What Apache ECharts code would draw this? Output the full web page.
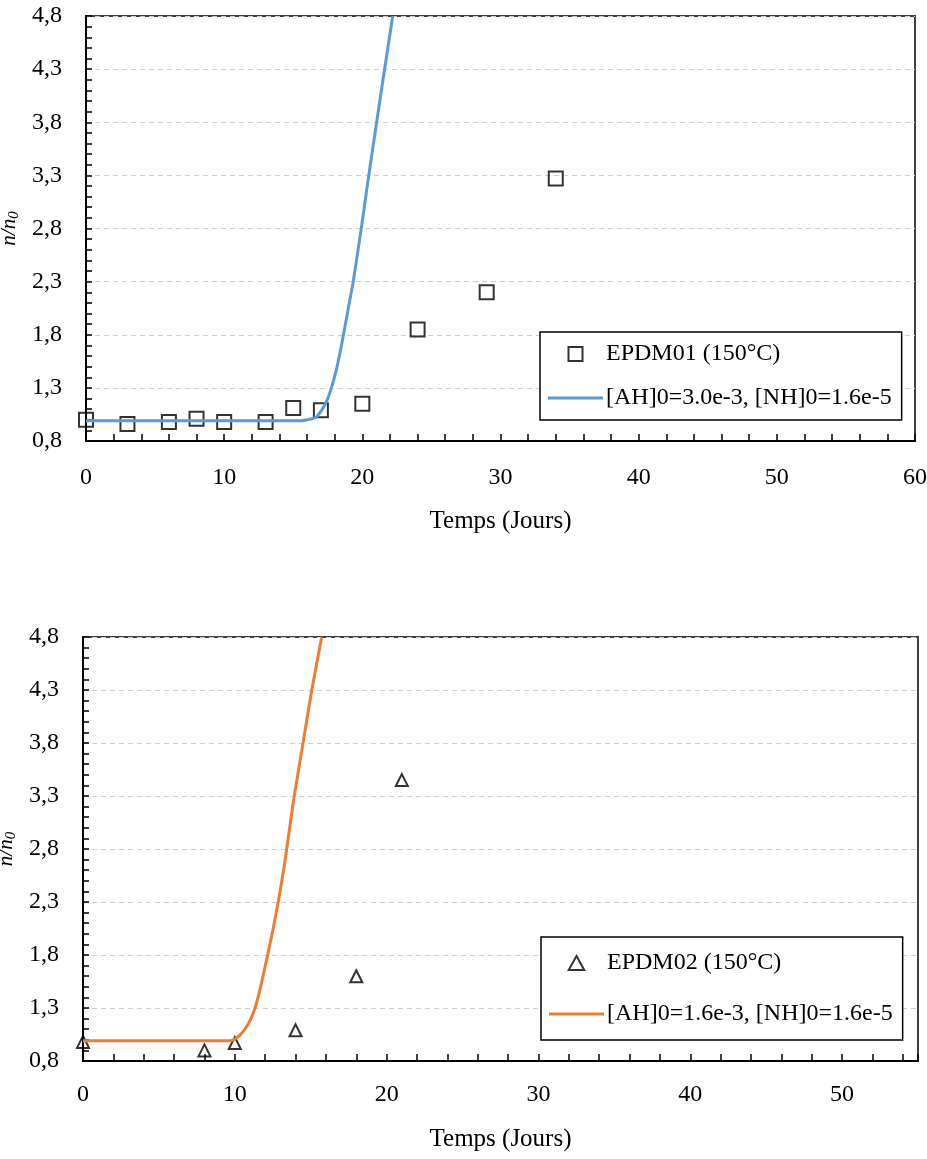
<!DOCTYPE html>
<html>
<head>
<meta charset="utf-8">
<script src="https://cdn.jsdelivr.net/npm/echarts@6/dist/echarts.min.js"></script>
<style>
html,body{margin:0;padding:0;background:#fff;}
#chart{width:927px;height:1159px;}
</style>
</head>
<body>
<div id="chart"></div>
<script>
// ---- Data ----
const epdm01X = [0, 3, 6, 8, 10, 13, 15, 17, 20, 24, 29, 34];
const epdm01Y = [1.00, 0.96, 0.98, 1.01, 0.98, 0.98, 1.11, 1.09, 1.15, 1.85, 2.20, 3.27];
const model01X = [0, 5, 10, 15.5, 16.0, 16.4, 16.7, 16.93, 17.2, 17.5, 17.78, 18.1, 18.4, 18.62, 19.0, 19.34, 19.9, 20.4, 21.0, 21.6, 22.2];
const model01Y = [0.99, 0.99, 0.99, 0.99, 1.00, 1.01, 1.03, 1.066, 1.12, 1.20, 1.31, 1.46, 1.64, 1.79, 2.06, 2.30, 2.78, 3.24, 3.77, 4.29, 4.80];

const epdm02X = [0, 8, 10, 14, 18, 21];
const epdm02Y = [0.98, 0.90, 0.97, 1.09, 1.60, 3.45];
const model02X = [0, 5, 9.5, 9.9, 10.3, 10.67, 11.0, 11.33, 11.7, 12.1, 12.5, 12.87, 13.3, 13.86, 14.47, 15.06, 15.72];
const model02Y = [0.99, 0.99, 0.99, 1.00, 1.04, 1.10, 1.18, 1.30, 1.50, 1.76, 2.03, 2.31, 2.68, 3.25, 3.78, 4.29, 4.80];

const name01 = 'EPDM01 (150°C)';
const nameModel01 = '[AH]0=3.0e-3, [NH]0=1.6e-5';
const name02 = 'EPDM02 (150°C)';
const nameModel02 = '[AH]0=1.6e-3, [NH]0=1.6e-5';
const xTitle = 'Temps (Jours)';

const yMin = 0.8, yMax = 4.8, yStep = 0.5;
const xMax1 = 60, xMax2 = 55;

// ---- Styling helpers ----
const FONT = '"Liberation Serif", "Times New Roman", serif';
const zip = (xs, ys) => xs.map((x, i) => [x, ys[i]]);
const ICON_SQUARE = 'path://M0,0H10V10H0Z';
const ICON_TRI = 'path://M5,0L10,9L0,9Z';
const ICON_LINE = 'path://M0,0H55V3H0Z';

function xAxisCfg(gridIndex, max, labelMargin, nameGap) {
  return {
    type: 'value', gridIndex, min: 0, max, interval: 2,
    name: xTitle, nameLocation: 'middle', nameGap,
    nameTextStyle: { fontFamily: FONT, fontSize: 25, color: '#000' },
    axisLine: { show: true, onZero: false, lineStyle: { color: '#000', width: 2 } },
    axisTick: { show: true, inside: true, length: 7, lineStyle: { color: '#000', width: 1.5 } },
    axisLabel: {
      fontFamily: FONT, fontSize: 24, color: '#000', margin: labelMargin,
      formatter: v => (Math.abs(v % 10) < 1e-9 ? String(v) : '')
    },
    splitLine: { show: false }
  };
}
function yAxisCfg(gridIndex) {
  return {
    type: 'value', gridIndex, min: yMin, max: yMax, interval: yStep,
    name: '{i|n/n}{s|0}', nameLocation: 'middle', nameGap: 58, nameRotate: 90,
    nameTextStyle: {
      rich: {
        i: { fontFamily: FONT, fontStyle: 'italic', fontSize: 21, color: '#000' },
        s: { fontFamily: FONT, fontStyle: 'italic', fontSize: 15, color: '#000', padding: [9, 0, 0, 0] }
      }
    },
    axisLine: { show: true, onZero: false, lineStyle: { color: '#000', width: 2 } },
    axisTick: { show: true, inside: true, length: 6, lineStyle: { color: '#000', width: 1.5 } },
    minorTick: { show: true, splitNumber: 5, length: 6, lineStyle: { color: '#000', width: 1.5 } },
    axisLabel: {
      fontFamily: FONT, fontSize: 24, color: '#000', margin: 24,
      formatter: v => v.toFixed(1).replace('.', ',')
    },
    splitLine: { show: true, lineStyle: { color: '#cfcfcf', width: 1, type: [5, 4] } }
  };
}
function legendCfg(left, top, items, gap, pad) {
  return {
    orient: 'vertical', left, top, selectedMode: false,
    data: items,
    itemWidth: 55, itemHeight: 14, itemGap: gap,
    symbolKeepAspect: true,
    padding: pad,
    borderColor: '#000', borderWidth: 1.5, backgroundColor: '#fff',
    textStyle: { fontFamily: FONT, fontSize: 24, color: '#000', padding: [0, 0, 0, -2] }
  };
}

const option = {
  animation: false,
  backgroundColor: '#fff',
  grid: [
    { left: 86, top: 16, width: 829, height: 425, containLabel: false, outerBoundsMode: 'none', show: true, borderColor: '#404040', borderWidth: 2 },
    { left: 83, top: 637, width: 835, height: 424, containLabel: false, outerBoundsMode: 'none', show: true, borderColor: '#404040', borderWidth: 2 }
  ],
  xAxis: [xAxisCfg(0, xMax1, 25, 68), xAxisCfg(1, xMax2, 22, 66)],
  yAxis: [yAxisCfg(0), yAxisCfg(1)],
  legend: [
    legendCfg(540, 332, [{ name: name01, icon: ICON_SQUARE }, { name: nameModel01, icon: ICON_LINE }], 20, [10, 10, 10, 8]),
    legendCfg(541, 937, [{ name: name02, icon: ICON_TRI }, { name: nameModel02, icon: ICON_LINE }], 27, [14, 10, 14, 8])
  ],
  series: [
    {
      name: name01, type: 'scatter', xAxisIndex: 0, yAxisIndex: 0,
      symbol: 'rect', symbolSize: 14,
      itemStyle: { color: 'rgba(255,255,255,0)', borderColor: '#000', borderWidth: 2 },
      data: zip(epdm01X, epdm01Y), z: 2
    },
    {
      name: nameModel01, type: 'line', xAxisIndex: 0, yAxisIndex: 0,
      symbol: 'none', smooth: 0.2,
      lineStyle: { color: '#5B9BD5', width: 3 }, itemStyle: { color: '#5B9BD5' },
      data: zip(model01X, model01Y), z: 3
    },
    {
      name: name02, type: 'scatter', xAxisIndex: 1, yAxisIndex: 1,
      symbol: 'triangle', symbolSize: 12,
      itemStyle: { color: 'rgba(255,255,255,0)', borderColor: '#000', borderWidth: 2 },
      data: zip(epdm02X, epdm02Y), z: 2
    },
    {
      name: nameModel02, type: 'line', xAxisIndex: 1, yAxisIndex: 1,
      symbol: 'none', smooth: 0.2,
      lineStyle: { color: '#ED7D31', width: 3 }, itemStyle: { color: '#ED7D31' },
      data: zip(model02X, model02Y), z: 3
    }
  ]
};

const chart = echarts.init(document.getElementById('chart'), null, { renderer: 'canvas' });
chart.setOption(option);
</script>
</body>
</html>
